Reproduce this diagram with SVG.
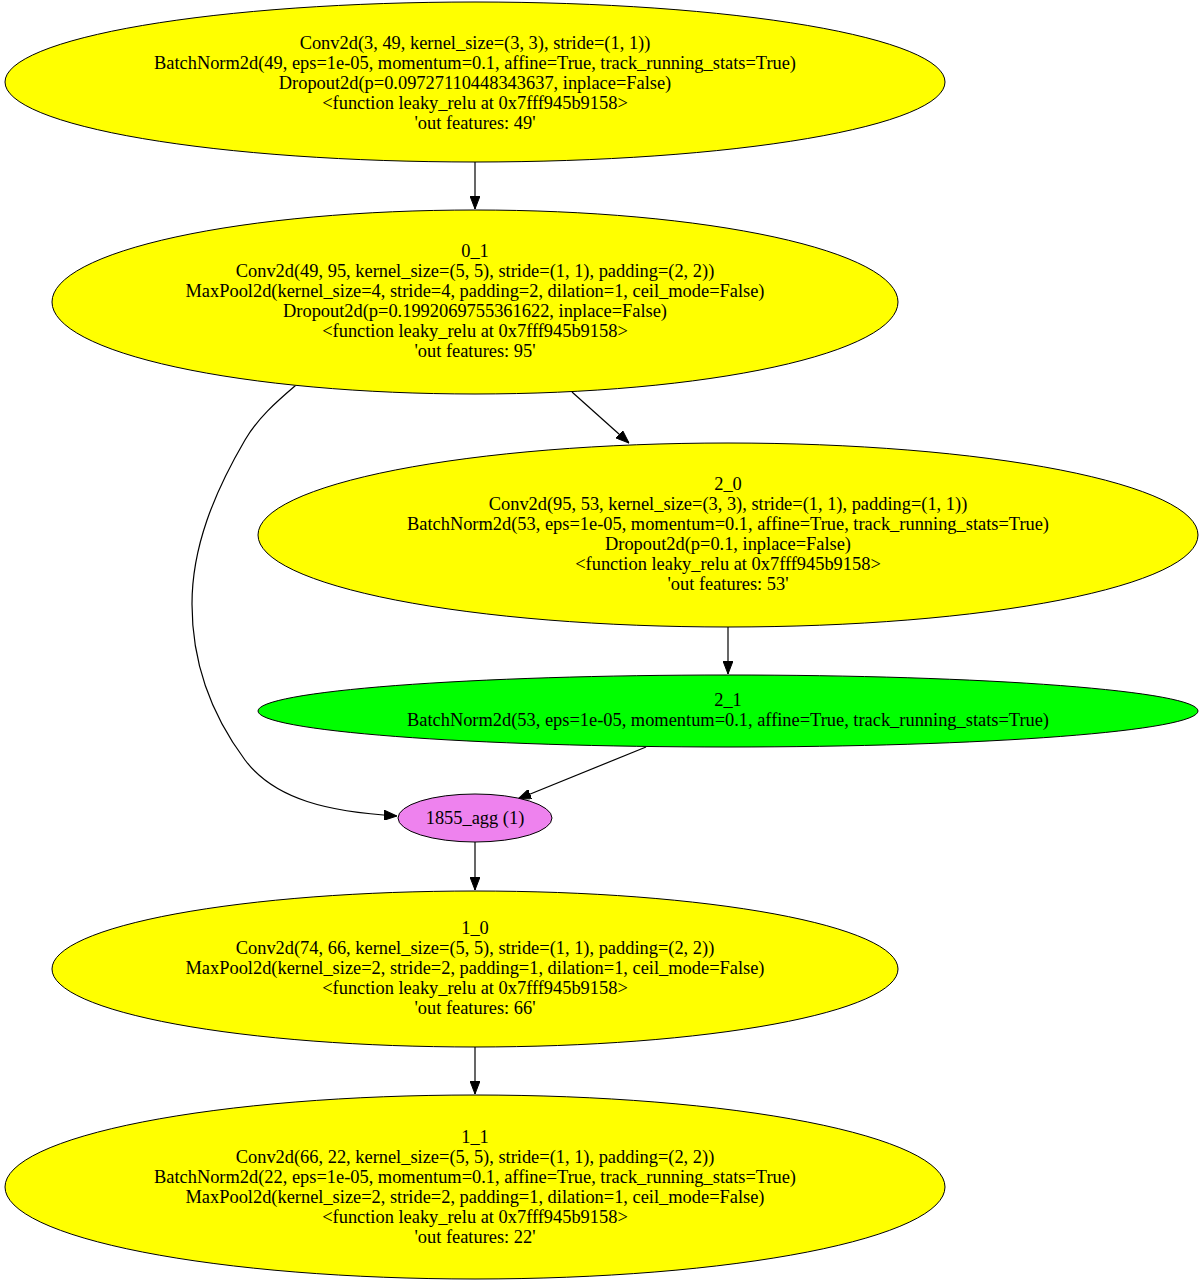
<svg xmlns="http://www.w3.org/2000/svg" width="1203" height="1286" viewBox="0 0 1203 1286">
<style>
.n{stroke:#000;stroke-width:1}
.y{fill:#ffff00}
.g{fill:#00ff00}
.v{fill:#ee82ee}
text{font-family:"Liberation Serif","Times New Roman",serif;font-size:18.4px;text-anchor:middle;fill:#000}
.e{fill:none;stroke:#000;stroke-width:1.2}
</style>
<defs>
<marker id="ah" markerWidth="13" markerHeight="10" refX="13" refY="5" orient="auto" markerUnits="userSpaceOnUse">
<polygon points="0,0 13,5 0,10" fill="#000" stroke="#000" stroke-width="1"/>
</marker>
</defs>
<rect width="1203" height="1286" fill="#fff"/>
<g id="connectors">
<path class="e" d="M475,162 L475,209" marker-end="url(#ah)"/>
<path class="e" d="M572,392 L629,443" marker-end="url(#ah)"/>
<path class="e" d="M295.5,385.5 C275,403 258,418 245,440 C214,493 192,547 192,604 C192,661 210,713 245,760 C275,800 330,812 397,816" marker-end="url(#ah)"/>
<path class="e" d="M728,627 L728,674" marker-end="url(#ah)"/>
<path class="e" d="M646,747 L518,799" marker-end="url(#ah)"/>
<path class="e" d="M475,842 L475,890" marker-end="url(#ah)"/>
<path class="e" d="M475,1047 L475,1094" marker-end="url(#ah)"/>
</g>
<g id="node0_0">
<ellipse class="n y" cx="475" cy="82" rx="470" ry="80"/>
<text x="475" y="49">Conv2d(3, 49, kernel_size=(3, 3), stride=(1, 1))</text>
<text x="475" y="69">BatchNorm2d(49, eps=1e-05, momentum=0.1, affine=True, track_running_stats=True)</text>
<text x="475" y="89">Dropout2d(p=0.09727110448343637, inplace=False)</text>
<text x="475" y="109">&lt;function leaky_relu at 0x7fff945b9158&gt;</text>
<text x="475" y="129">'out features: 49'</text>
</g>
<g id="node0_1">
<ellipse class="n y" cx="475" cy="302" rx="423" ry="92"/>
<text x="475" y="257">0_1</text>
<text x="475" y="277">Conv2d(49, 95, kernel_size=(5, 5), stride=(1, 1), padding=(2, 2))</text>
<text x="475" y="297">MaxPool2d(kernel_size=4, stride=4, padding=2, dilation=1, ceil_mode=False)</text>
<text x="475" y="317">Dropout2d(p=0.1992069755361622, inplace=False)</text>
<text x="475" y="337">&lt;function leaky_relu at 0x7fff945b9158&gt;</text>
<text x="475" y="357">'out features: 95'</text>
</g>
<g id="node2_0">
<ellipse class="n y" cx="728" cy="535" rx="470" ry="92"/>
<text x="728" y="490">2_0</text>
<text x="728" y="510">Conv2d(95, 53, kernel_size=(3, 3), stride=(1, 1), padding=(1, 1))</text>
<text x="728" y="530">BatchNorm2d(53, eps=1e-05, momentum=0.1, affine=True, track_running_stats=True)</text>
<text x="728" y="550">Dropout2d(p=0.1, inplace=False)</text>
<text x="728" y="570">&lt;function leaky_relu at 0x7fff945b9158&gt;</text>
<text x="728" y="590">'out features: 53'</text>
</g>
<g id="node2_1">
<ellipse class="n g" cx="728" cy="711" rx="470" ry="36"/>
<text x="728" y="706">2_1</text>
<text x="728" y="726">BatchNorm2d(53, eps=1e-05, momentum=0.1, affine=True, track_running_stats=True)</text>
</g>
<g id="node1855_agg">
<ellipse class="n v" cx="475" cy="818" rx="77" ry="24"/>
<text x="475" y="824">1855_agg (1)</text>
</g>
<g id="node1_0">
<ellipse class="n y" cx="475" cy="969" rx="423" ry="78"/>
<text x="475" y="934">1_0</text>
<text x="475" y="954">Conv2d(74, 66, kernel_size=(5, 5), stride=(1, 1), padding=(2, 2))</text>
<text x="475" y="974">MaxPool2d(kernel_size=2, stride=2, padding=1, dilation=1, ceil_mode=False)</text>
<text x="475" y="994">&lt;function leaky_relu at 0x7fff945b9158&gt;</text>
<text x="475" y="1014">'out features: 66'</text>
</g>
<g id="node1_1">
<ellipse class="n y" cx="475" cy="1187" rx="470" ry="92"/>
<text x="475" y="1143">1_1</text>
<text x="475" y="1163">Conv2d(66, 22, kernel_size=(5, 5), stride=(1, 1), padding=(2, 2))</text>
<text x="475" y="1183">BatchNorm2d(22, eps=1e-05, momentum=0.1, affine=True, track_running_stats=True)</text>
<text x="475" y="1203">MaxPool2d(kernel_size=2, stride=2, padding=1, dilation=1, ceil_mode=False)</text>
<text x="475" y="1223">&lt;function leaky_relu at 0x7fff945b9158&gt;</text>
<text x="475" y="1243">'out features: 22'</text>
</g>
</svg>
